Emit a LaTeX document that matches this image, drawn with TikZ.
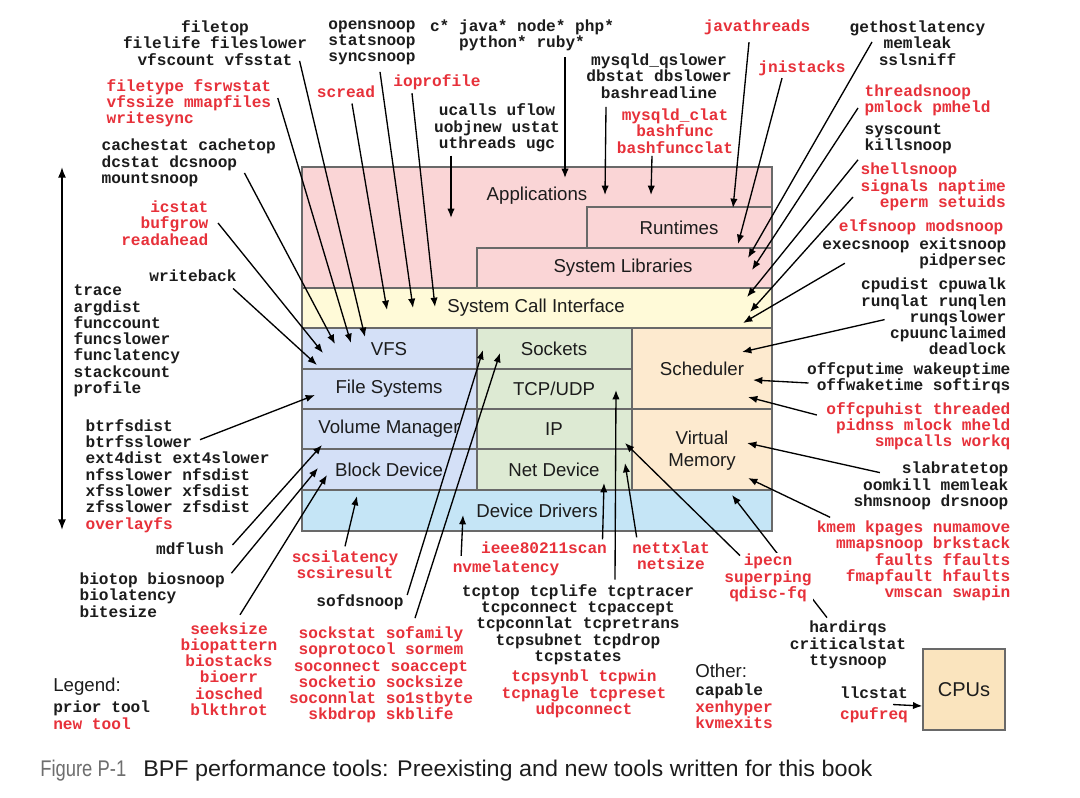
\documentclass[tikz,border=0pt]{standalone}
\usepackage{fontspec}
\usepackage{graphicx}
\setmainfont{Liberation Sans}
\newfontfamily\toolmono{Liberation Mono}
\usetikzlibrary{arrows.meta,calc}
\definecolor{newred}{RGB}{231,49,58}
\definecolor{priorblack}{RGB}{28,28,28}
\definecolor{edgegray}{RGB}{105,105,105}
\definecolor{appfill}{RGB}{250,213,214}
\definecolor{sysfill}{RGB}{255,250,216}
\definecolor{fsfill}{RGB}{212,224,247}
\definecolor{netfill}{RGB}{221,234,211}
\definecolor{schedfill}{RGB}{253,234,207}
\definecolor{drvfill}{RGB}{197,229,246}
\definecolor{cpufill}{RGB}{250,228,190}
\definecolor{capgray}{RGB}{110,110,110}

\begin{document}
\begin{tikzpicture}[x=0.75pt, y=-0.75pt,
  prior/.style={font={\toolmono\bfseries\fontsize{12.1}{12.2}\selectfont}, text=priorblack, inner sep=1pt},
  newtool/.style={prior, text=newred},
  layer/.style={draw=edgegray, line width=1.1pt},
  layerlabel/.style={font={\fontsize{14}{16.5}\selectfont}, text=priorblack},
  probe/.style={-{Latex[length=7pt,width=5.5pt]}, line width=1pt},
]
\useasboundingbox (0,0) rectangle (1080,798);
\fill[white] (0,0) rectangle (1080,798);

\draw[layer, fill=appfill] (302,167) rectangle (772,288);
\draw[layer, fill=appfill] (587,207) rectangle (772,248);
\draw[layer, fill=appfill] (477,248) rectangle (772,288);
\draw[layer, fill=sysfill] (302,288) rectangle (772,328);
\draw[layer, fill=fsfill] (302,328) rectangle (477,369);
\draw[layer, fill=fsfill] (302,369) rectangle (477,409);
\draw[layer, fill=fsfill] (302,409) rectangle (477,449);
\draw[layer, fill=fsfill] (302,449) rectangle (477,490);
\draw[layer, fill=netfill] (477,328) rectangle (632,369);
\draw[layer, fill=netfill] (477,369) rectangle (632,409);
\draw[layer, fill=netfill] (477,409) rectangle (632,449);
\draw[layer, fill=netfill] (477,449) rectangle (632,490);
\draw[layer, fill=schedfill] (632,328) rectangle (772,409);
\draw[layer, fill=schedfill] (632,409) rectangle (772,490);
\draw[layer, fill=drvfill] (302,490) rectangle (772,531);

\node[layerlabel] (apps) at (537,196) {Applications};
\node[layerlabel] (runtimes) at (679,228) {Runtimes};
\node[layerlabel] (syslibs) at (623,268) {System Libraries};
\node[layerlabel] (syscall) at (536,308) {System Call Interface};
\node[layerlabel] (vfs) at (389,349) {VFS};
\node[layerlabel] (filesys) at (389,389) {File Systems};
\node[layerlabel] (volmgr) at (389,429) {Volume Manager};
\node[layerlabel] (blkdev) at (389,470) {Block Device};
\node[layerlabel] (sockets) at (554,349) {Sockets};
\node[layerlabel] (tcpudp) at (554,389) {TCP/UDP};
\node[layerlabel] (ip) at (554,429) {IP};
\node[layerlabel] (netdev) at (554,470) {Net Device};
\node[layerlabel] (sched) at (702,369) {Scheduler};
\node[layerlabel, align=center] (vmem) at (702,451) {Virtual\\Memory};
\node[layerlabel] (drivers) at (537,511) {Device Drivers};

\foreach \tipname/\tx/\ty in {vfsa/365/337, vfsb/351/343, vfsc/335/344, vfsd/323/353, vfse/317/365,
  fsa/315/395, vola/322/445, blka/318/468, blkb/327/475, drva/357/496, drvb/463/515, drvc/732/495,
  socka/483/350, sockb/500/353, neta/604/483, netb/625/463, tcpa/616/390, ipa/625/443,
  vma/748/478, vmb/747/443, scha/748/397, schb/753/380, schc/742/352,
  sysa/743/323, sysb/750/312, sysc/747/297, sysd/387/310, syse/413/308, sysf/435/307,
  liba/752/270, libb/748/258, libc/738/244, rta/733/208,
  appa/605/195, appb/651/195, appc/565/178, appd/451/218}
  \coordinate (\tipname) at (\tx,\ty);

\coordinate (stacktop) at (62,167);
\coordinate (stackbot) at (62,530);
\draw[{Latex[length=8pt,width=6pt]}-{Latex[length=8pt,width=6pt]}, line width=1.2pt] (stacktop) -- (stackbot);

\node[prior, align=center] (filetop) at (215,43) {filetop\\filelife fileslower\\vfscount vfsstat};
\node[newtool, align=left, anchor=west] (filetype) at (105,103) {filetype fsrwstat\\vfssize mmapfiles\\writesync};
\node[prior, align=left, anchor=west] (cachestat) at (100,163) {cachestat cachetop\\dcstat dcsnoop\\mountsnoop};
\node[newtool, align=right, anchor=east] (icstat) at (210,223) {icstat\\bufgrow\\readahead};
\node[prior] (writeback) at (193,276) {writeback};
\node[prior, align=left, anchor=west] (trace) at (72,341) {trace\\argdist\\funccount\\funcslower\\funclatency\\stackcount\\profile};
\node[prior, align=left, anchor=west] (btrfs) at (84,466) {btrfsdist\\btrfsslower\\ext4dist ext4slower\\nfsslower nfsdist\\xfsslower xfsdist\\zfsslower zfsdist};
\node[newtool, anchor=west] (overlayfs) at (84,525) {overlayfs};
\node[prior] (mdflush) at (190,549) {mdflush};
\node[prior, align=left, anchor=west] (biotop) at (78,595) {biotop biosnoop\\biolatency\\bitesize};
\node[newtool, align=center] (seeksize) at (229,669) {seeksize\\biopattern\\biostacks\\bioerr\\iosched\\blkthrot};
\node[layerlabel, anchor=west, inner sep=0] (legend) at (53,687) {Legend:};
\node[prior, anchor=west, inner sep=0] (priorkey) at (53,708) {prior tool};
\node[newtool, anchor=west, inner sep=0] (newkey) at (53,724) {new tool};
\node[newtool, align=center] (scsi) at (345,565) {scsilatency\\scsiresult};
\node[prior] (sofdsnoop) at (360,602) {sofdsnoop};
\node[newtool, align=center] (sockstat) at (381,675) {sockstat sofamily\\soprotocol sormem\\soconnect soaccept\\socketio socksize\\soconnlat so1stbyte\\skbdrop skblife};
\node[newtool] (nvme) at (506,568) {nvmelatency};
\node[newtool] (ieee) at (544,548) {ieee80211scan};
\node[newtool, align=center] (nettxlat) at (671,556) {nettxlat\\netsize};
\node[prior, align=center] (tcptop) at (578,624.5) {tcptop tcplife tcptracer\\tcpconnect tcpaccept\\tcpconnlat tcpretrans\\tcpsubnet tcpdrop\\tcpstates};
\node[newtool, align=center] (tcpsynbl) at (584,694) {tcpsynbl tcpwin\\tcpnagle tcpreset\\udpconnect};
\node[layerlabel, anchor=west, inner sep=0] (other) at (695,671) {Other:};
\node[prior, anchor=west, inner sep=0] (capable) at (695,691) {capable};
\node[newtool, align=left, anchor=west, inner sep=0] (xenhyper) at (695,715) {xenhyper\\kvmexits};
\node[prior, align=center] (hardirqs) at (848,645) {hardirqs\\criticalstat\\ttysnoop};
\draw[probe] ($(hardirqs.north)+(-21,-2)$) -- (drvc);
\node[newtool, align=center, fill=white] (ipecn) at (768,578) {ipecn\\superping\\qdisc-fq};
\node[newtool, align=right, anchor=east] (kmem) at (1012,561) {kmem kpages numamove\\mmapsnoop brkstack\\faults ffaults\\fmapfault hfaults\\vmscan swapin};
\node[prior] (llcstat) at (874,693) {llcstat};
\node[newtool] (cpufreq) at (874,715) {cpufreq};
\node[layer, fill=cpufill, layerlabel, font={\fontsize{15}{17}\selectfont}, minimum width=61.5pt, minimum height=60.75pt] (cpus) at (964,689.5) {CPUs};

\node[prior, align=center] (opensnoop) at (372,43) {opensnoop\\statsnoop\\syncsnoop};
\node[prior, align=center] (cstar) at (522,35) {c* java* node* php*\\python* ruby*};
\node[newtool] (scread) at (346,92) {scread};
\node[newtool] (ioprofile) at (437,82) {ioprofile};
\node[prior, align=center] (ucalls) at (497,128) {ucalls uflow\\uobjnew ustat\\uthreads ugc};
\node[prior, align=center] (mysqlq) at (659,76) {mysqld\_qslower\\dbstat dbslower\\bashreadline};
\node[newtool, align=center] (mysqlclat) at (675,131) {mysqld\_clat\\bashfunc\\bashfuncclat};
\node[newtool] (javathreads) at (757,27) {javathreads};
\node[newtool] (jnistacks) at (802,68) {jnistacks};
\node[prior, align=center] (gethost) at (917.5,43) {gethostlatency\\memleak\\sslsniff};
\node[newtool, align=left, anchor=west] (threadsnoop) at (863,100) {threadsnoop\\pmlock pmheld};
\node[prior, align=left, anchor=west] (syscount) at (863,139) {syscount\\killsnoop};
\node[newtool, align=left, anchor=west] (shellsnoop) at (859,187) {shellsnoop\\signals naptime\\\hphantom{ee}eperm setuids};
\node[newtool, anchor=east] (elfsnoop) at (1005,227) {elfsnoop modsnoop};
\node[prior, align=right, anchor=east] (execsnoop) at (1008,253) {execsnoop exitsnoop\\pidpersec};
\node[prior, align=right, anchor=east] (cpudist) at (1008,316.6) {cpudist cpuwalk\\runqlat runqlen\\runqslower\\cpuunclaimed\\deadlock};
\node[prior, align=right, anchor=east] (offcputime) at (1012,378) {offcputime wakeuptime\\offwaketime softirqs};
\node[newtool, align=right, anchor=east] (offcpuhist) at (1012,426) {offcpuhist threaded\\pidnss mlock mheld\\smpcalls workq};
\node[prior, align=right, anchor=east] (slabratetop) at (1010,486) {slabratetop\\oomkill memleak\\shmsnoop drsnoop};

\draw[probe] ($(filetop.south east)+(-9,-6)$) -- (vfsa);
\draw[probe] ($(filetype.east)+(5,-5)$) -- (vfsb);
\draw[probe] ($(cachestat.east)+(-33,10)$) -- (vfsc);
\draw[probe] ($(icstat.east)+(8,0)$) -- (vfsd);
\draw[probe] ($(writeback.south east)+(-5,5)$) -- (vfse);
\draw[probe] ($(btrfs.north west)+(116,22)$) -- (fsa);
\draw[probe] ($(mdflush.east)+(7,-4)$) -- (vola);
\draw[probe] ($(biotop.north east)+(5,2)$) -- (blka);
\draw[probe] ($(seeksize.north)+(11,-6)$) -- (blkb);
\draw[probe] ($(scsi.north)+(0,-3)$) -- (drva);
\draw[probe] ($(sofdsnoop.east)+(2,-7)$) -- (socka);
\draw[probe] ($(sockstat.north)+(34,-7)$) -- (sockb);
\draw[probe] ($(nvme.north west)+(10,-3)$) -- (drvb);
\draw[probe] ($(ieee.north east)+(-6,-1)$) -- (neta);
\draw[probe] ($(tcptop.north)+(37,-3)$) -- (tcpa);
\draw[probe] ($(nettxlat.north west)+(6,-3)$) -- (netb);
\draw[probe] ($(ipecn.north)+(-28,3)$) -- (ipa);
\draw[probe] ($(kmem.north west)+(15,-2)$) -- (vma);
\draw[probe] ($(slabratetop.north west)+(28,12)$) -- (vmb);
\draw[probe] ($(offcpuhist.west)+(-8,-11)$) -- (scha);
\draw[probe] ($(offcputime.west)+(3,5)$) -- (schb);
\draw[probe] ($(cpudist.west)+(25,3)$) -- (schc);
\draw[probe] ($(execsnoop.south west)+(24,-7)$) -- (sysa);
\draw[probe] ($(shellsnoop.west)+(-6,10)$) -- (sysb);
\draw[probe] ($(syscount.south west)+(-5,4)$) -- (sysc);
\draw[probe] ($(scread.south)+(6,4)$) -- (sysd);
\draw[probe] ($(opensnoop.south)+(8,5)$) -- (syse);
\draw[probe] ($(ioprofile.south)+(-25,2)$) -- (sysf);
\draw[probe] ($(threadsnoop.west)+(-5,8)$) -- (liba);
\draw[probe] ($(gethost.center)+(-45.5,-1)$) -- (libb);
\draw[probe] ($(jnistacks.south)+(-20,1)$) -- (libc);
\draw[probe] ($(javathreads.south)+(-8,6)$) -- (rta);
\draw[probe] ($(mysqlq.south)+(-53,7)$) -- (appa);
\draw[probe] ($(mysqlclat.south)+(-23,1)$) -- (appb);
\draw[probe] ($(cstar.south)+(43,5)$) -- (appc);
\draw[probe] ($(ucalls.south)+(-46,2)$) -- (appd);
\draw[probe] ($(llcstat.south)+(19,4)$) -- ($(cpus.west)+(0,16.5)$);

\node[anchor=base west, text=capgray, inner sep=0] (figno) at (40,776) {\resizebox{64.5pt}{\height}{\fontsize{17}{20}\selectfont Figure P-1}};
\node[anchor=base west, text=priorblack, inner sep=0] (figcap) at (143,776) {\resizebox{546.75pt}{\height}{\fontsize{17}{20}\selectfont BPF performance tools: Preexisting and new tools written for this book}};
\end{tikzpicture}
\end{document}
